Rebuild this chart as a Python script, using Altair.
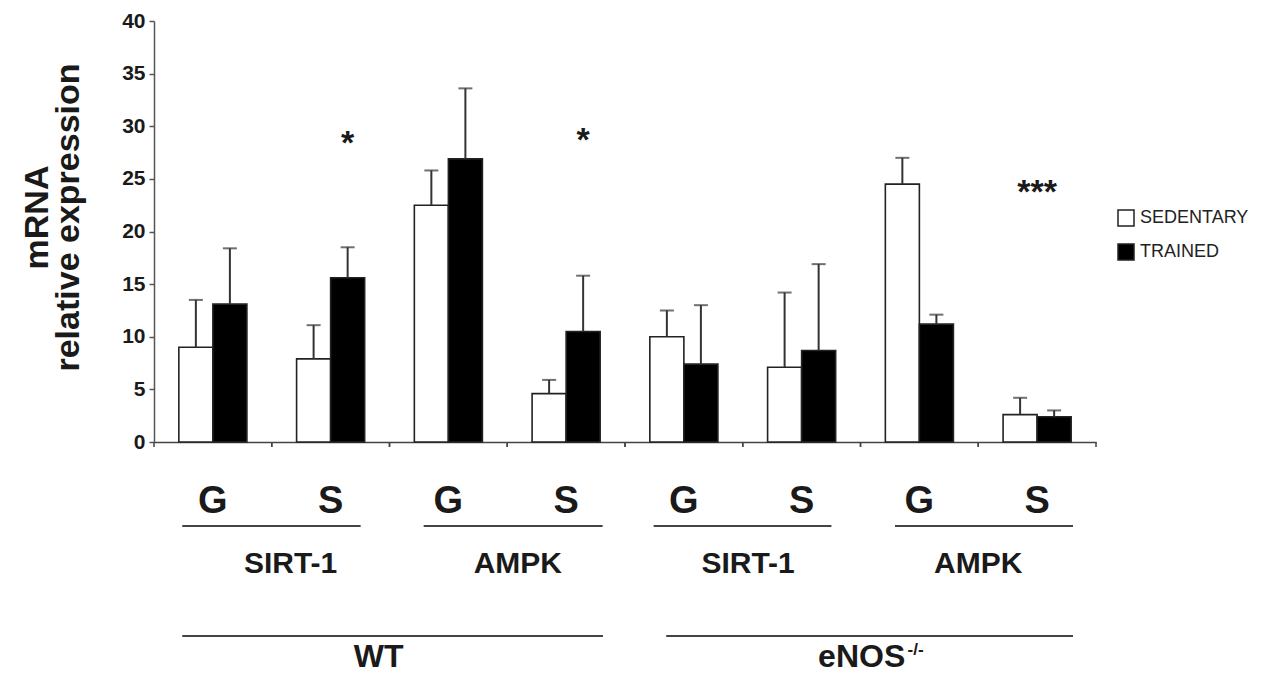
import altair as alt
import pandas as pd

# ---------------- data ----------------
GENOTYPES = ["WT", "WT", "WT", "WT", "eNOS", "eNOS", "eNOS", "eNOS"]
GENES = ["SIRT-1", "SIRT-1", "AMPK", "AMPK", "SIRT-1", "SIRT-1", "AMPK", "AMPK"]
TISSUES = ["G", "S", "G", "S", "G", "S", "G", "S"]
CONDITIONS = ["SEDENTARY", "TRAINED"]

SED_MEAN = [9.0, 7.9, 22.5, 4.6, 10.0, 7.1, 24.5, 2.6]
SED_SEM = [4.5, 3.2, 3.3, 1.3, 2.5, 7.1, 2.5, 1.6]
TRN_MEAN = [13.1, 15.6, 26.9, 10.5, 7.4, 8.7, 11.2, 2.4]
TRN_SEM = [5.3, 2.9, 6.7, 5.3, 5.6, 8.2, 0.9, 0.6]

STAR_GROUP_IDX = [1, 3]          # single stars above TRAINED bar
STAR_TEXT = ["*", "*"]
STAR_Y = [28.9, 29.2]
TRIPLE_GROUP_IDX = [7]
TRIPLE_TEXT = ["***"]
TRIPLE_Y = [24.2]

GENE_LABELS = ["SIRT-1", "AMPK", "SIRT-1", "AMPK"]
GENOTYPE_LABELS = ["WT", "eNOS", "-/-"]
Y_TITLE = ["mRNA", "relative expression"]
Y_TICKS = [0, 5, 10, 15, 20, 25, 30, 35, 40]

GROUPS = [f"{a}|{b}|{c}" for a, b, c in zip(GENOTYPES, GENES, TISSUES)]

rows = []
for i, g in enumerate(GROUPS):
    rows.append({"group": g, "condition": CONDITIONS[0], "mean": SED_MEAN[i],
                 "upper": SED_MEAN[i] + SED_SEM[i]})
    rows.append({"group": g, "condition": CONDITIONS[1], "mean": TRN_MEAN[i],
                 "upper": TRN_MEAN[i] + TRN_SEM[i]})
df = pd.DataFrame(rows)

# ---------------- layout ----------------
W, H = 942, 421
FONT = "Liberation Sans"
INK = "#1a1a1a"

x_scale = alt.Scale(domain=GROUPS, paddingInner=0, paddingOuter=0)
x_axis = alt.Axis(title=None, labelExpr="split(datum.label, '|')[2]", labelAngle=0,
                  labelFont=FONT, labelFontSize=38, labelFontWeight="bold", labelColor=INK,
                  labelBaseline="alphabetic", labelPadding=70, ticks=False, tickSize=0,
                  domainColor="#444", domainWidth=1.5)
xoff_scale = alt.Scale(domain=CONDITIONS, paddingInner=0, paddingOuter=0.73)
y_scale = alt.Scale(domain=[0, 40], nice=False)
y_axis = alt.Axis(values=Y_TICKS, title=Y_TITLE, grid=False, labelFont=FONT,
                  labelFontSize=21, labelFontWeight="bold", labelColor=INK, labelPadding=4,
                  tickSize=5, tickColor="#555", tickWidth=1.5, domainColor="#555",
                  domainWidth=1.5, titleFont=FONT, titleFontSize=34, titleFontWeight="bold",
                  titleColor=INK, titleLineHeight=31, titleX=-100, titleY=196,
                  titleBaseline="bottom", titleAlign="center")


def xg(bp=None, field="group"):
    kw = {} if bp is None else {"bandPosition": bp}
    return alt.X(f"{field}:N", scale=x_scale, axis=x_axis, **kw)


def yq(field):
    return alt.Y(f"{field}:Q", scale=y_scale, axis=y_axis)


xoff = alt.XOffset("condition:N", scale=xoff_scale)

bars = alt.Chart(df).mark_bar(stroke="#222", strokeWidth=1.6).encode(
    x=xg(), xOffset=xoff, y=yq("mean"),
    fill=alt.Fill("condition:N", scale=alt.Scale(domain=CONDITIONS, range=["white", "black"]),
                  legend=alt.Legend(title=None, orient="none", legendX=963, legendY=188,
                                    symbolType="square", symbolSize=256,
                                    symbolStrokeColor="#222", symbolStrokeWidth=1.5,
                                    labelFont=FONT, labelFontSize=18, labelColor="#222",
                                    rowPadding=12, padding=0, labelOffset=5))
)

err = alt.Chart(df).mark_rule(color="#333", strokeWidth=2).encode(
    x=xg(), xOffset=xoff, y=yq("mean"), y2="upper:Q")
caps = alt.Chart(df).mark_tick(color="#333", thickness=2, size=14).encode(
    x=xg(), xOffset=xoff, y=yq("upper"))

stars_df = pd.DataFrame({"group": [GROUPS[i] for i in STAR_GROUP_IDX],
                         "condition": [CONDITIONS[1]] * len(STAR_GROUP_IDX),
                         "ypos": STAR_Y, "txt": STAR_TEXT})
stars = alt.Chart(stars_df).mark_text(font=FONT, fontSize=34, fontWeight="bold", color=INK,
                                      baseline="alphabetic", dy=16).encode(
    x=xg(), xOffset=xoff, y=yq("ypos"), text="txt:N")
triple_df = pd.DataFrame({"group": [GROUPS[i] for i in TRIPLE_GROUP_IDX],
                          "ypos": TRIPLE_Y, "txt": TRIPLE_TEXT})
triple = alt.Chart(triple_df).mark_text(font=FONT, fontSize=34, fontWeight="bold", color=INK,
                                        baseline="alphabetic", dy=16).encode(
    x=xg(), y=yq("ypos"), text="txt:N")

# x-axis boundary ticks
gdf = pd.DataFrame({"group": GROUPS})
tick_l = alt.Chart(gdf).mark_rule(color="#444", strokeWidth=1.5).encode(
    x=xg(0), y=alt.value(H), y2=alt.value(H + 5))
tick_r = alt.Chart(gdf).mark_rule(color="#444", strokeWidth=1.5).encode(
    x=xg(1), y=alt.value(H), y2=alt.value(H + 5))


def hline(gs, bs, ge, be, ypix):
    d = pd.DataFrame({"group": [GROUPS[gs]], "group_end": [GROUPS[ge]]})
    return alt.Chart(d).mark_rule(color="#444", strokeWidth=2).encode(
        x=xg(bs), x2=alt.X2("group_end:N", bandPosition=be), y=alt.value(ypix))


def label(gi, bp, text, ypix, size, align="center"):
    d = pd.DataFrame({"group": [GROUPS[gi]], "txt": [text]})
    return alt.Chart(d).mark_text(font=FONT, fontSize=size, fontWeight="bold", color=INK,
                                  align=align, baseline="alphabetic").encode(
        x=xg(bp), y=alt.value(ypix), text="txt:N")


lines = [
    hline(0, 0.24, 1, 0.755, 505),
    hline(2, 0.29, 3, 0.81, 505),
    hline(4, 0.243, 5, 0.753, 505),
    hline(6, 0.293, 7, 0.805, 505),
    hline(0, 0.24, 3, 0.813, 615),
    hline(4, 0.35, 7, 0.805, 615),
]
texts = [
    label(1, 0.16, GENE_LABELS[0], 552, 30),
    label(3, 0.09, GENE_LABELS[1], 552, 30),
    label(5, 0.045, GENE_LABELS[2], 552, 30),
    label(7, 0.0, GENE_LABELS[3], 552, 30),
    label(1, 0.907, GENOTYPE_LABELS[0], 646, 32),
    label(5, 0.64, GENOTYPE_LABELS[1], 646, 32, align="left"),
    label(6, 0.40, GENOTYPE_LABELS[2], 634, 17, align="left"),
]

chart = alt.layer(bars, err, caps, stars, triple, tick_l, tick_r, *lines, *texts).properties(
    width=W, height=H,
    autosize=alt.AutoSizeParams(type="none"),
    padding={"left": 154, "top": 21, "right": 1263 - 154 - W, "bottom": 675 - 21 - H},
    background="white",
).configure_view(stroke=None)

chart.save("out.html", embed_options={"renderer": "svg", "actions": False})
